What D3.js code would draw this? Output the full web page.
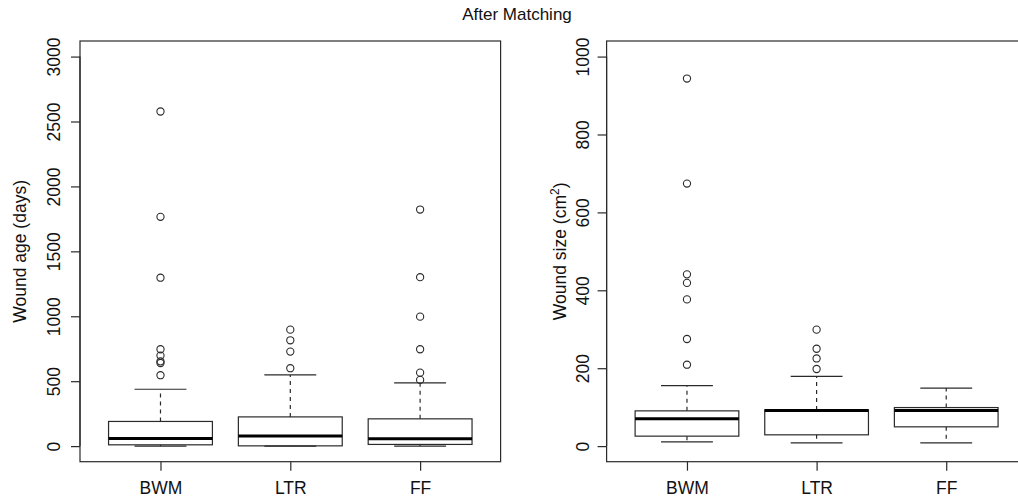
<!DOCTYPE html>
<html>
<head>
<meta charset="utf-8">
<script src="https://cdn.jsdelivr.net/npm/d3@7"></script>
<style>
  html, body { margin: 0; padding: 0; background: #fff; }
  svg { display: block; }
  text { font-family: "Liberation Sans", Arial, sans-serif; fill: #111; }
</style>
</head>
<body>
<script>
// ---------- data ----------
const categories = ["BWM", "LTR", "FF"];

// Wound age (days)
const ageLow    = [0, 0, 0];
const ageQ1     = [10, 2, 13];
const ageMedian = [59, 77, 56];
const ageQ3     = [190, 225, 210];
const ageHigh   = [438, 548, 487];
const ageOutliers = [
  [2577, 1766, 1297, 746, 697, 653, 640, 546],
  [897, 815, 728, 600],
  [1822, 1301, 997, 746, 566, 510]
];
const ageTicks = [0, 500, 1000, 1500, 2000, 2500, 3000];

// Wound size (cm^2)
const sizeLow    = [11, 8.5, 8.5];
const sizeQ1     = [25.6, 29, 49.5];
const sizeMedian = [70, 91.4, 91.4];
const sizeQ3     = [90.5, 93, 99];
const sizeHigh   = [155.5, 179, 149];
const sizeOutliers = [
  [943.6, 674, 441, 419, 376.6, 275, 209],
  [299, 250, 225, 198],
  []
];
const sizeTicks = [0, 200, 400, 600, 800, 1000];

// ---------- drawing ----------
const W = 1018, H = 498;
const svg = d3.select("body").append("svg").attr("width", W).attr("height", H);
const stroke = "#2a2a2a";
const fs = 17.5;

svg.append("text").attr("x", 517).attr("y", 20).attr("text-anchor", "middle")
  .style("font-size", "17px").text("After Matching");

function panel(opt) {
  const {left, right, top, bottom, ymax, ticks, low, q1, med, q3, high, outliers, titleX, tickX, titleNode} = opt;
  const x = d3.scaleLinear().domain([0.38, 3.62]).range([left, right]);
  const pad = 0.04 * ymax;
  const y = d3.scaleLinear().domain([-pad, ymax + pad]).range([bottom, top]);
  const g = svg.append("g");

  // frame
  g.append("rect").attr("x", left).attr("y", top).attr("width", right - left).attr("height", bottom - top)
    .attr("fill", "none").attr("stroke", stroke).attr("stroke-width", 1.2);

  // y axis (left)
  const yAxis = d3.axisLeft(y).tickValues(ticks).tickSize(9).tickPadding(0).tickFormat(d3.format("d"));
  const ya = g.append("g").attr("transform", `translate(${left},0)`).call(yAxis);
  ya.select(".domain").remove();
  ya.append("line").attr("x1", 0).attr("x2", 0).attr("y1", y(ticks[0])).attr("y2", y(ticks[ticks.length - 1]))
    .attr("stroke", stroke).attr("stroke-width", 1.2);
  ya.selectAll(".tick line").attr("stroke", stroke).attr("stroke-width", 1.2);
  ya.selectAll(".tick text").remove();
  ya.selectAll(".tick").append("text")
    .attr("transform", `translate(${tickX - left},0) rotate(-90)`)
    .attr("text-anchor", "middle").attr("x", 0).attr("y", 0)
    .style("font-size", fs + "px").style("fill", "#111")
    .text(d => d);

  // x axis (bottom)
  const xAxis = d3.axisBottom(x).tickValues([1, 2, 3]).tickSize(9).tickPadding(0).tickFormat((d, i) => categories[i]);
  const xa = g.append("g").attr("transform", `translate(0,${bottom})`).call(xAxis);
  xa.select(".domain").remove();
  xa.selectAll(".tick line").attr("stroke", stroke).attr("stroke-width", 1.2);
  xa.selectAll(".tick text").attr("y", 32).attr("dy", 0).style("font-size", fs + "px").style("fill", "#111")
    .attr("font-family", null);

  // axis title
  titleNode(g.append("text").attr("transform", `translate(${titleX},${(top + bottom) / 2}) rotate(-90)`)
    .attr("text-anchor", "middle").style("font-size", fs + "px"));

  const bw = 0.8 * (x(2) - x(1));
  categories.forEach((c, i) => {
    const cx = x(i + 1);
    const b = g.append("g");
    // whiskers
    b.append("line").attr("x1", cx).attr("x2", cx).attr("y1", y(q3[i])).attr("y2", y(high[i]))
      .attr("stroke", stroke).attr("stroke-width", 1.2).attr("stroke-dasharray", "4,4");
    b.append("line").attr("x1", cx).attr("x2", cx).attr("y1", y(q1[i])).attr("y2", y(low[i]))
      .attr("stroke", stroke).attr("stroke-width", 1.2).attr("stroke-dasharray", "4,4");
    // staples
    [high[i], low[i]].forEach(v => {
      b.append("line").attr("x1", cx - bw / 4).attr("x2", cx + bw / 4).attr("y1", y(v)).attr("y2", y(v))
        .attr("stroke", stroke).attr("stroke-width", 1.2);
    });
    // box
    b.append("rect").attr("x", cx - bw / 2).attr("width", bw)
      .attr("y", y(q3[i])).attr("height", y(q1[i]) - y(q3[i]))
      .attr("fill", "none").attr("stroke", stroke).attr("stroke-width", 1.2);
    // median
    b.append("line").attr("x1", cx - bw / 2).attr("x2", cx + bw / 2).attr("y1", y(med[i])).attr("y2", y(med[i]))
      .attr("stroke", "#000").attr("stroke-width", 3);
    // outliers
    b.selectAll("circle.o").data(outliers[i]).enter().append("circle").attr("class", "o")
      .attr("cx", cx).attr("cy", d => y(d)).attr("r", 3.6)
      .attr("fill", "none").attr("stroke", stroke).attr("stroke-width", 1.1);
  });
}

panel({
  left: 80, right: 500.6, top: 41, bottom: 461.7, ymax: 3000, ticks: ageTicks,
  low: ageLow, q1: ageQ1, med: ageMedian, q3: ageQ3, high: ageHigh, outliers: ageOutliers,
  titleX: 26, tickX: 60,
  titleNode: t => t.text("Wound age (days)")
});

panel({
  left: 606.6, right: 1026.6, top: 41, bottom: 461.7, ymax: 1000, ticks: sizeTicks,
  low: sizeLow, q1: sizeQ1, med: sizeMedian, q3: sizeQ3, high: sizeHigh, outliers: sizeOutliers,
  titleX: 566, tickX: 589,
  titleNode: t => {
    t.append("tspan").text("Wound size (cm");
    t.append("tspan").attr("dy", -7).style("font-size", "12px").text("2");
    t.append("tspan").attr("dy", 7).text(")");
  }
});
</script>
</body>
</html>
